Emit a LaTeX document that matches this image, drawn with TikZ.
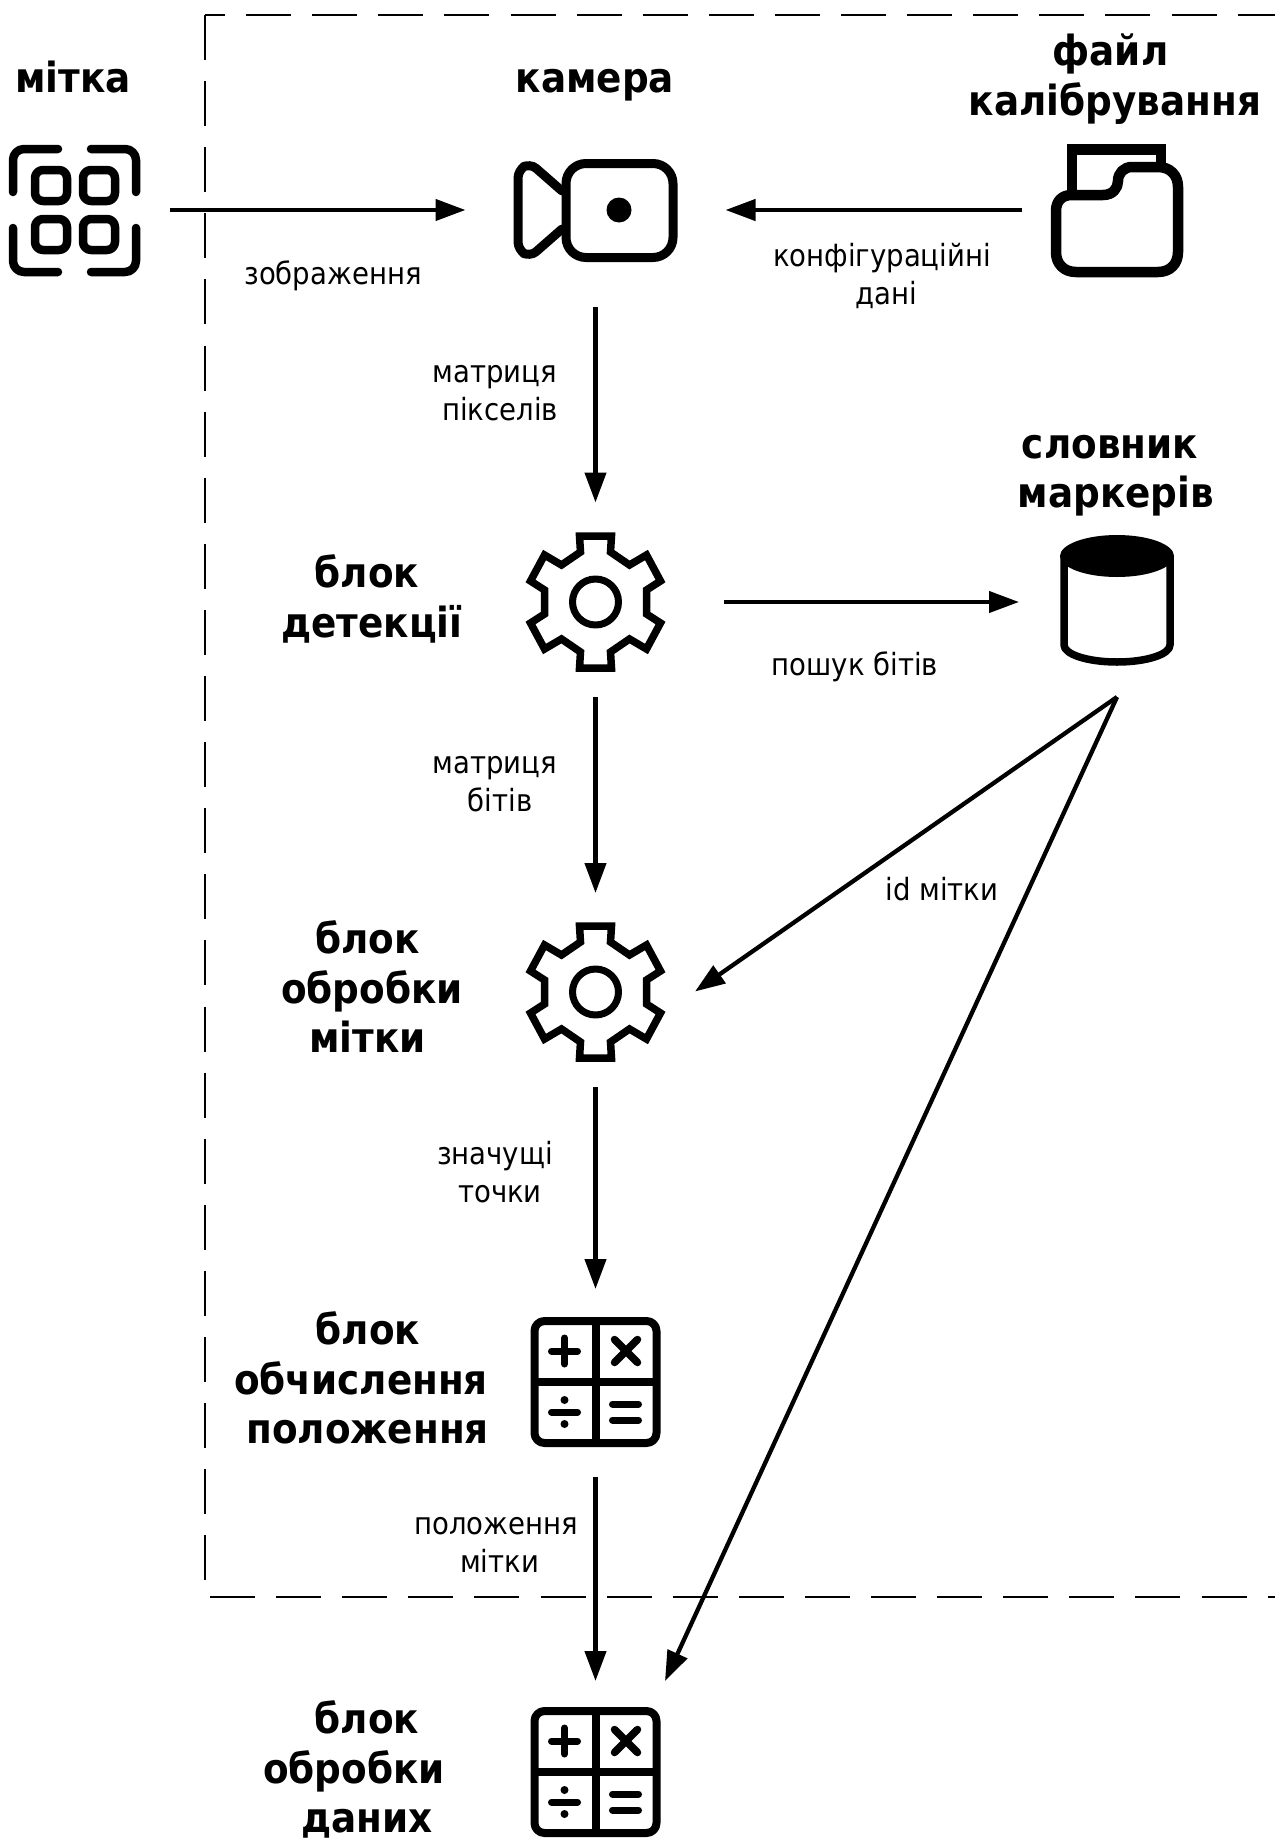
\documentclass[tikz,border=0pt]{standalone}
\usepackage{fontspec}
\setmainfont{DejaVu Sans Condensed}
\usetikzlibrary{arrows.meta}
\newcommand{\trail}[1]{\hspace*{#1pt}}
\tikzset{
 icon/.style={draw=none,inner sep=0pt,outer sep=0pt,minimum width=#1},
 lab/.style={align=center,inner sep=0pt,font=\fontsize{30.6}{38}\selectfont},
 head/.style={align=center,inner sep=0pt,font=\fontsize{41.5}{49.5}\selectfont\bfseries},
 conn/.style={line width=4.3pt,-{Triangle[length=30pt,width=21pt]}},
 frameline/.style={line width=2.9pt,dash pattern=on 45pt off 21.1pt},
 ic/.style={line width=7pt,line join=round,line cap=round},
 pics/gearicon/.style={code={
  \draw[ic,line width=7.5pt,line join=miter] (-16,-66)--(16,-66)--(15,-50)--(34,-37)--(51,-47)--(65,-21)--(51,-12)--(51,12)--(65,21)--(51,47)--(34,37)--(15,50)--(16,66)--(-16,66)--(-15,50)--(-34,37)--(-51,47)--(-65,21)--(-51,12)--(-51,-12)--(-65,-21)--(-51,-47)--(-34,-37)--(-15,-50)--cycle;
  \draw[ic,line width=7pt] (0,0) circle[radius=23];
 }},
 pics/calcicon/.style={code={
  \draw[ic,line width=8pt,rounded corners=10pt] (-61,-61) rectangle (61,61);
  \draw[ic,line width=8pt,line cap=butt] (0,-61)--(0,61) (-61,0)--(61,0);
  \draw[ic,line width=7pt] (-44,-31)--(-18,-31) (-31,-44)--(-31,-18);
  \draw[ic,line width=7.5pt] (19,-42.5)--(42,-19.5) (42,-42.5)--(19,-19.5);
  \draw[ic,line width=7pt] (-44,30)--(-18,30);
  \fill (-31,18) circle[radius=4] (-31,42) circle[radius=4];
  \draw[ic,line width=7pt] (17,22)--(43,22) (17,38)--(43,38);
 }}
}
\begin{document}
\begin{tikzpicture}[x=1pt,y=-1pt]
\useasboundingbox (0,0) rectangle (1275,1839);
% frame
\draw[frameline] (205,15)--(205,1581);
\draw[frameline,dash phase=25pt] (205,15)--(1275,15);
\draw[frameline] (210,1597)--(1275,1597);
% invisible icon frames, connector ends lie on their borders
\node[icon=192pt,minimum height=140pt] (tag) at (74,210) {};
\node[icon=260pt,minimum height=194pt] (cam) at (595.5,210) {};
\node[icon=190pt,minimum height=140pt] (file) at (1117,210) {};
\node[icon=257pt,minimum height=190pt] (gearA) at (595.5,602) {};
\coordinate (gearAin) at (595.5,502.5);
\node[icon=201pt,minimum height=194pt] (gearB) at (595.5,990) {};
\coordinate (gearBin) at (695,991.5);
\node[icon=140pt,minimum height=188pt] (calcA) at (595.5,1383) {};
\node[icon=139pt,minimum height=182pt] (calcB) at (595.5,1772) {};
\node[icon=196pt,minimum height=190pt] (db) at (1117,602) {};
% tag icon
\draw[ic,line width=8.5pt] (13,192)--(13,160) arc[start angle=180,end angle=270,radius=11]--(58,149);
\draw[ic,line width=8.5pt] (91,149)--(125,149) arc[start angle=270,end angle=360,radius=11]--(136,192);
\draw[ic,line width=8.5pt] (13,228)--(13,261) arc[start angle=180,end angle=90,radius=11]--(58,272);
\draw[ic,line width=8.5pt] (91,272)--(125,272) arc[start angle=90,end angle=0,radius=11]--(136,228);
\foreach \x/\y in {35/170,83/170,35/219,83/219}
 \draw[ic,line width=8.5pt,rounded corners=8pt] (\x,\y) rectangle ++(32,31);
% camera icon
\draw[ic,line width=9pt,rounded corners=20pt] (566,163.5) rectangle (673,257.5);
\fill (619,210) circle[radius=12.5];
\draw[ic,line width=9pt,rounded corners=8pt] (562,191)--(530,163)--(518,170)--(518,250)--(530,257)--(562,229);
% folder icon
\draw[ic,line width=10.5pt,line cap=butt,line join=miter] (1072,192)--(1072,149.5)--(1161,149.5)--(1161,164);
\draw[ic,line width=10.5pt] (1072,195)--(1103,195) .. controls (1113,195) and (1118,188) .. (1118,181) .. controls (1118,173) and (1124,167) .. (1132,167)--(1158,167) .. controls (1170,167) and (1178,175) .. (1178,187)--(1178,252) .. controls (1178,264) and (1170,272) .. (1158,272)--(1076,272) .. controls (1064,272) and (1056,264) .. (1056,252)--(1056,211) .. controls (1056,201) and (1062,195) .. (1072,195)--cycle;
% database icon
\fill (1117,556) ellipse[x radius=57,y radius=21];
\draw[ic,line width=7.5pt,line cap=butt] (1064,556)--(1064,645) arc[start angle=180,end angle=0,x radius=53,y radius=17]--(1170,556);
% gears and calculators
\pic at (595.5,602) {gearicon};
\pic at (595.5,992) {gearicon};
\pic at (595.5,1382) {calcicon};
\pic at (595.5,1772) {calcicon};
% connectors
\draw[conn] (tag.east)--(cam.west);
\draw[conn] (file.west)--(cam.east);
\draw[conn] (cam.south)--(gearAin);
\draw[conn] (gearA.east)--(db.west);
\draw[conn] (gearA.south)--(gearB.north);
\draw[conn] (db.south)--(gearBin);
\draw[conn] (gearB.south)--(calcA.north);
\draw[conn] (calcA.south)--(calcB.north);
\draw[conn] (db.south)--(calcB.north east);
% headings
\node[head,anchor=base] (t1) at (73,92) {мітка};
\node[head,anchor=base] (t2) at (595,92) {камера};
\node[head] (t3) at (1115,79) {файл\trail{9}\\калібрування};
\node[head] (t4) at (1116,475.5) {словник\trail{12}\\маркерів};
\node[head] (t5) at (372,599) {блок\trail{10}\\детекції};
\node[head] (t6) at (372,987) {блок\trail{9}\\обробки\\мітки\trail{9}};
\node[head] (t7) at (361,1378) {\trail{14}блок\\обчислення\\\trail{13}положення};
\node[head] (t8) at (354,1769.5) {\trail{26}блок\\обробки\\\trail{26}даних};
% labels
\node[lab] (l1) at (333,276) {зображення};
\node[lab] (l2) at (882,275.5) {конфігураційні\\\trail{9}дані};
\node[lab] (l3) at (495,393) {матриця\\\trail{10}пікселів};
\node[lab] (l4) at (855,667) {пошук бітів};
\node[lab] (l5) at (495,784) {матриця\\\trail{10}бітів};
\node[lab] (l6) at (942,889) {id мітки};
\node[lab] (l7) at (495,1172) {значущі\\\trail{10}точки};
\node[lab] (l8) at (496,1545) {положення\\\trail{7}мітки};
\end{tikzpicture}
\end{document}
